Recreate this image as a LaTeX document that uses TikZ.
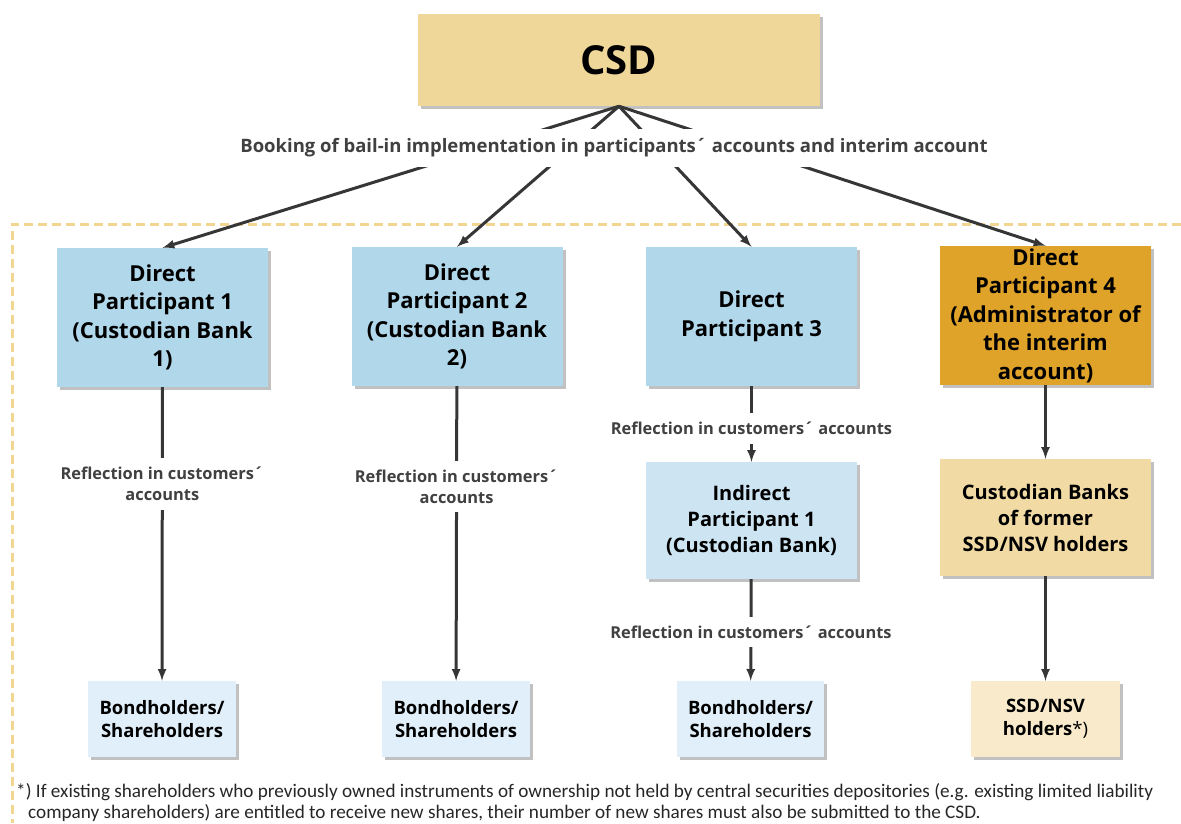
\documentclass[tikz,border=0pt]{standalone}
\usepackage{fontspec}
\setmainfont{Open Sans}
\newfontfamily\notefont{Carlito}
\usetikzlibrary{shadows}

\definecolor{csdfill}{HTML}{EFD699}
\definecolor{dpblue}{HTML}{B1D7EA}
\definecolor{dpgold}{HTML}{DFA32A}
\definecolor{indblue}{HTML}{CDE5F3}
\definecolor{custsand}{HTML}{F1DAA3}
\definecolor{holdblue}{HTML}{E0EFF9}
\definecolor{holdsand}{HTML}{F8EACB}
\definecolor{framegold}{HTML}{F2D590}
\definecolor{arrowgray}{HTML}{363636}
\definecolor{lblgray}{HTML}{404040}

\begin{document}
\begin{tikzpicture}[
                        x=1pt, y=-1pt,
                        >=latex,
                        box/.style={rectangle, align=center, inner sep=0pt,
                            drop shadow={shadow xshift=3pt, shadow yshift=-3pt, opacity=.35, fill=black!70}},
                        dpbox/.style={box, fill=dpblue, minimum width=211pt, minimum height=139pt,
                            font=\fontsize{22}{28.5}\selectfont\bfseries},
                        midbox/.style={box, minimum width=211pt, minimum height=117pt,
                            font=\fontsize{20}{26}\selectfont\bfseries},
                        holdbox/.style={box, fill=holdblue, minimum width=148pt, minimum height=76pt,
                            font=\fontsize{18.5}{23}\selectfont\bfseries},
                        conn/.style={->, draw=arrowgray, line width=3pt},
                        lbl/.style={fill=white, text=lblgray, align=center, inner xsep=4pt, inner ysep=9pt,
                            font=\fontsize{16.4}{21}\selectfont\bfseries},
                        frame/.style={draw=framegold, line width=3pt, dash pattern=on 9pt off 5pt}
                    ]
                    \useasboundingbox (0,0) rectangle (1181,823);
                    % Frame
                    \draw [frame] (1181,224) -- (12,224) -- (12,823);

                    % Blocks
                    \node [box, fill=csdfill, minimum width=402pt, minimum height=92pt,
                           font=\fontsize{40}{42}\selectfont\bfseries] (csd) at (619,60) {CSD};
                    \node [dpbox] (dp1) at (162.5,317.5) {Direct\\Participant 1\\(Custodian Bank\\1)};
                    \node [dpbox] (dp2) at (457,316.5) {Direct\\Participant 2\\(Custodian Bank\\2)};
                    \node [dpbox] (dp3) at (751.5,316.5) {Direct\\Participant 3};
                    \node [dpbox, fill=dpgold] (dp4) at (1045.5,315.5) {Direct\\Participant 4\\(Administrator of\\the interim\\account)};
                    \node [midbox, fill=indblue] (ind1) at (751.5,520.5) {Indirect\\Participant 1\\(Custodian Bank)};
                    \node [midbox, fill=custsand] (cust) at (1045.5,517.5) {Custodian Banks\\of former\\SSD/NSV holders};
                    \node [holdbox] (hold1) at (162,719) {Bondholders/\\Shareholders};
                    \node [holdbox] (hold2) at (456,719) {Bondholders/\\Shareholders};
                    \node [holdbox, minimum width=147pt] (hold3) at (750.5,719) {Bondholders/\\Shareholders};
                    \node [holdbox, fill=holdsand, minimum width=149pt] (ssd) at (1045.5,719) {SSD/NSV\\holders{\mdseries*)}};

                    % Connections
                    \draw [conn] (csd.south) -- (dp1.north);
                    \draw [conn] (csd.south) -- (dp2.north);
                    \draw [conn] (csd.south) -- (dp3.north);
                    \draw [conn] (csd.south) -- (dp4.north);
                    \node [lbl, inner ysep=10pt, font=\fontsize{18.5}{21}\selectfont\bfseries] (booking) at (614,148)
                          {Booking of bail-in implementation in participants´ accounts and interim account};

                    \draw [conn] (dp1) -- node[lbl, pos=.33]{Reflection in customers´\\accounts} (hold1);
                    \draw [conn] (dp2) -- node[lbl, pos=.34]{Reflection in customers´\\accounts} (hold2);
                    \draw [conn] (dp3) -- node[lbl, pos=.56]{Reflection in customers´ accounts} (ind1);
                    \draw [conn] (ind1) -- node[lbl, pos=.52]{Reflection in customers´ accounts} (hold3);
                    \draw [conn] (dp4) -- (cust);
                    \draw [conn] (cust) -- (ssd);

                    % Footnote
                    \node [anchor=north west, align=left, inner sep=0pt, text=black!85,
                           font=\notefont\fontsize{19.2}{21}\selectfont] (note) at (16,783)
                          {*) If existing shareholders who previously owned instruments of ownership not held by central securities depositories (e.g. existing limited liability\\
                           \hspace*{12pt}company shareholders) are entitled to receive new shares, their number of new shares must also be submitted to the CSD.};
                \end{tikzpicture}
\end{document}
